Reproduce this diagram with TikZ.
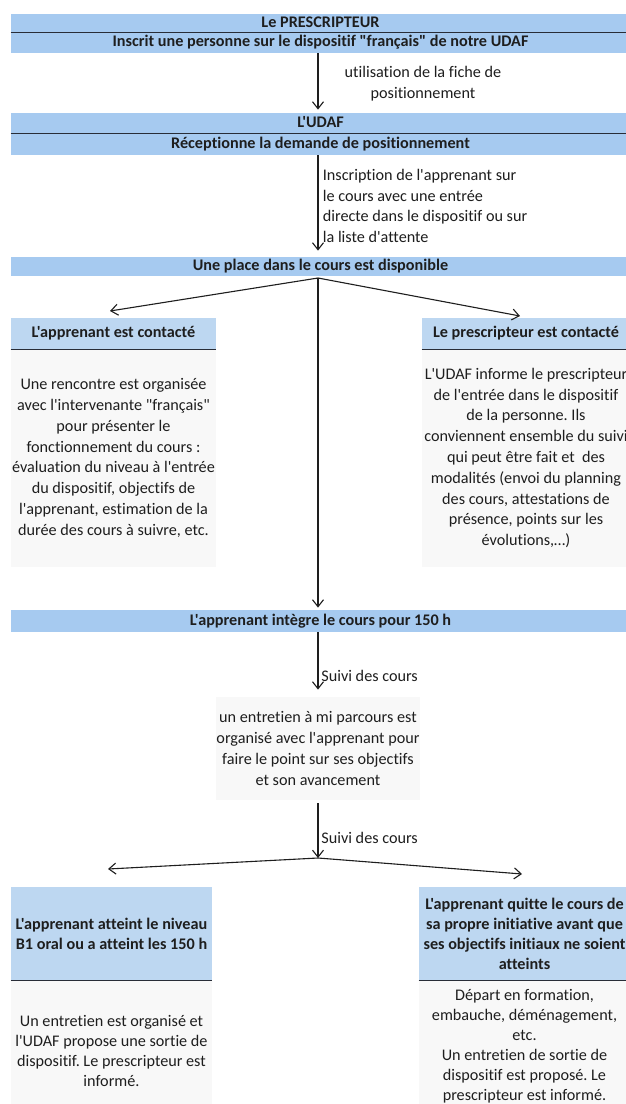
\documentclass[tikz,border=0pt]{standalone}
\usepackage{fontspec}
\setmainfont{Carlito}
\newfontfamily\calib{Carlito}[Ligatures=CommonOff]
\usetikzlibrary{arrows.meta,calc}
\definecolor{bandblue}{RGB}{166,202,240}
\definecolor{hdrblue}{RGB}{189,215,241}
\definecolor{bodygray}{RGB}{248,248,248}
\definecolor{ink}{RGB}{30,30,30}
\definecolor{sepline}{RGB}{40,45,55}
\frenchspacing
\begin{document}
\frenchspacing
\begin{tikzpicture}[x=0.5pt,y=-0.5pt,
  every node/.style={font=\calib\fontsize{8.1}{10.4}\selectfont\frenchspacing, text=ink, inner sep=0pt},
  band/.style={fill=bandblue, minimum width=309.5pt, font=\calib\fontsize{8.1}{10.4}\selectfont\bfseries, text height=6pt, text depth=1.8pt},
  hdr/.style={fill=hdrblue, font=\calib\fontsize{8.1}{10.4}\selectfont\bfseries\frenchspacing, align=center},
  body/.style={fill=bodygray, align=center},
  lbl/.style={align=left},
  sep/.style={draw=sepline, line width=0.75pt},
  conn/.style={draw=ink, line width=0.55pt, -{Straight Barb[length=3.5pt,width=5.5pt]}},
  plain/.style={draw=ink, line width=0.55pt}
]
\useasboundingbox (0,0) rectangle (626,1104);
\clip (0,0) rectangle (626,1104);
\fill[white] (0,0) rectangle (626,1104);
\coordinate (col) at (318,0);

% top bands
\node[band, minimum height=9pt] (b1) at (320.5,23) {Le PRESCRIPTEUR};
\node[band, minimum height=10.5pt] (b2) at (320.5,42.5) {Inscrit une personne sur le dispositif "français" de notre UDAF};
\draw[sep] (b1.south west) -- (b1.south east);
\node[band, minimum height=10pt] (b3) at (320.5,123) {L'UDAF};
\node[band, minimum height=11pt] (b4) at (320.5,144) {Réceptionne la demande de positionnement};
\draw[sep] (b3.south west) -- (b3.south east);
\node[band, minimum height=9.5pt] (b5) at (320.5,266.5) {Une place dans le cours est disponible};
\node[band, minimum height=11pt] (b6) at (320.5,621) {L'apprenant intègre le cours pour 150 h};

% labels
\node[align=center] (l1) at (423,84) {utilisation de la fiche de\\positionnement};
\node[lbl, anchor=west] (l2) at (322.5,206) {Inscription de l'apprenant sur\\le cours avec une entrée\\directe dans le dispositif ou sur\\la liste d'attente};

% top boxes
\node[hdr, minimum width=102.5pt, minimum height=15.5pt] (lh) at (113.5,333.5) {L'apprenant est contacté};
\node[body, minimum width=102.5pt, minimum height=109pt] (lb) at (113.5,458) {Une rencontre est organisée\\avec l'intervenante "français"\\pour présenter le\\fonctionnement du cours :\\évaluation du niveau à l'entrée\\du dispositif, objectifs de\\l'apprenant, estimation de la\\durée des cours à suivre, etc.};
\draw[sep] (lh.south west) -- (lh.south east);
\node[hdr, minimum width=104pt, minimum height=15.5pt] (rh) at (526,333.5) {Le prescripteur est contacté};
\node[body, minimum width=104pt, minimum height=109pt] (rb) at (526,458) {L'UDAF informe le prescripteur\\de l'entrée dans le dispositif\\de la personne. Ils\\conviennent ensemble du suivi\\qui peut être fait et\ \ des\\modalités (envoi du planning\\des cours, attestations de\\présence, points sur les\\évolutions,…)};
\draw[sep] (rh.south west) -- (rh.south east);

% middle
\node[body, minimum width=102pt, minimum height=51.5pt] (mid) at (318,748.5) {un entretien à mi parcours est\\organisé avec l'apprenant pour\\faire le point sur ses objectifs\\et son avancement};
\node[lbl, anchor=west] (l3) at (321,676) {Suivi des cours};
\node[lbl, anchor=west] (l4) at (321,838) {Suivi des cours};

% bottom boxes
\node[hdr, minimum width=100.5pt, minimum height=46.5pt, font=\calib\fontsize{8.1}{10}\selectfont\bfseries\frenchspacing] (blh) at (111.5,933.5) {L'apprenant atteint le niveau\\B1 oral ou a atteint les 150 h};
\node[body, minimum width=100.5pt, minimum height=70.5pt, font=\calib\fontsize{8.1}{10}\selectfont\frenchspacing] (blb) at (111.5,1050.5) {Un entretien est organisé et\\l'UDAF propose une sortie de\\dispositif. Le prescripteur est\\informé.};
\draw[sep] (blh.south west) -- (blh.south east);
\node[hdr, minimum width=105.5pt, minimum height=46.5pt, font=\calib\fontsize{8.1}{10}\selectfont\bfseries\frenchspacing] (brh) at (524.5,933.5) {L'apprenant quitte le cours de\\sa propre initiative avant que\\ses objectifs initiaux ne soient\\atteints};
\node[body, minimum width=105.5pt, minimum height=66.5pt, font=\calib\fontsize{8.1}{10}\selectfont\frenchspacing] (brb) at (524.5,1046.5) {Départ en formation,\\embauche, déménagement,\\etc.\\Un entretien de sortie de\\dispositif est proposé. Le\\prescripteur est informé.};
\draw[sep] (brh.south west) -- (brh.south east);

% connectors
\coordinate (fork1) at (318,278);
\coordinate (t1) at (110,311);
\coordinate (t2) at (520,316);
\coordinate (fork2) at (318,858);
\coordinate (t3) at (108,869);
\coordinate (t4) at (522,874);
\draw[conn, shorten >=1.5pt] (b2.south -| col) -- (b3.north -| col);
\draw[conn, shorten >=3pt] (b4.south -| col) -- (b5.north -| col);
\draw[conn] (fork1) -- (t1);
\draw[conn] (fork1) -- (t2);
\draw[conn, shorten >=1pt] (fork1) -- (b6.north -| col);
\draw[conn, shorten >=3.5pt] (b6.south -| col) -- (mid.north -| col);
\draw[conn, shorten <=1.5pt] (mid.south -| col) -- (fork2);
\draw[conn] (fork2) -- (t3);
\draw[conn] (fork2) -- (t4);
\end{tikzpicture}
\end{document}
